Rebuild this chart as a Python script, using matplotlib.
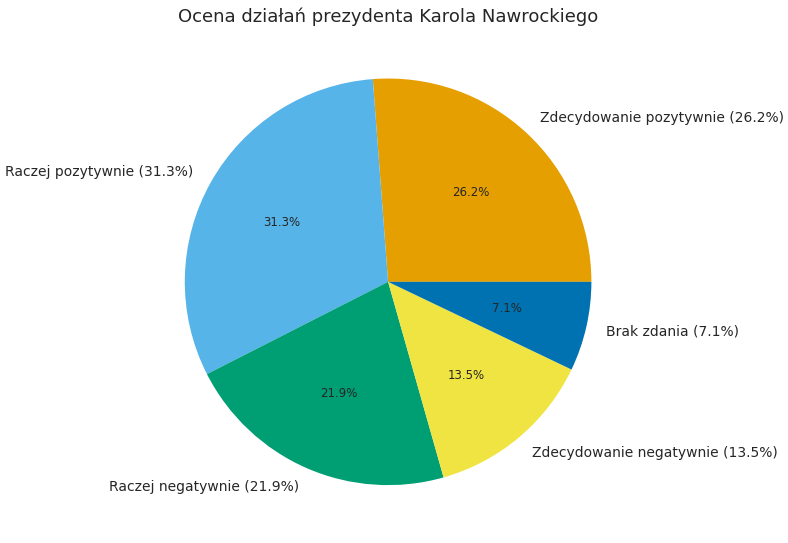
import matplotlib
matplotlib.use("Agg")
import matplotlib.pyplot as plt
import seaborn as sns

sns.set_theme(style="white")
plt.rcParams['font.family'] = ['DejaVu Sans']

categories = ["Zdecydowanie pozytywnie", "Raczej pozytywnie", "Raczej negatywnie",
              "Zdecydowanie negatywnie", "Brak zdania"]
shares = [26.2, 31.3, 21.9, 13.5, 7.1]
colors = ["#E69F00", "#56B4E9", "#009E73", "#F0E442", "#0072B2"]

labels = [f"{c} ({v}%)" for c, v in zip(categories, shares)]

fig = plt.figure(figsize=(7.88, 5.43), dpi=100)
ax = fig.add_axes([0.170, 0.013, 0.645, 0.936])

wedges, texts, autotexts = ax.pie(shares, labels=labels, colors=colors,
                                  autopct="%1.1f%%", startangle=0,
                                  wedgeprops={"linewidth": 0, "edgecolor": "none"},
                                  textprops={"fontsize": 10, "color": "#262626"})
for t in autotexts:
    t.set_fontsize(8.5)
ax.set_aspect("equal")

fig.suptitle("Ocena działań prezydenta Karola Nawrockiego", x=0.492, y=0.969,
             va="center", fontsize=13, color="#262626")

fig.savefig("out.png", dpi=100)
